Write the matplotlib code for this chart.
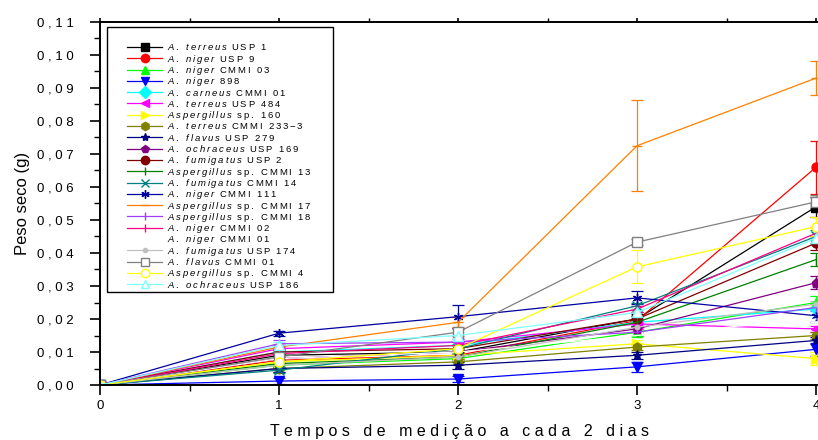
import numpy as np
import matplotlib
matplotlib.use('Agg')
import matplotlib.pyplot as plt
from matplotlib.lines import Line2D
from matplotlib.patches import Rectangle
from matplotlib.ticker import FixedLocator, MultipleLocator

plt.rcParams['font.family'] = ['Liberation Sans', 'DejaVu Sans']
plt.rcParams['mathtext.fontset'] = 'custom'
plt.rcParams['mathtext.rm'] = 'Liberation Sans'
plt.rcParams['mathtext.it'] = 'Liberation Sans:italic'

# measurement times (x) and dry weight per strain
dias = [0, 1, 2, 3, 4]

especies = ['A. terreus', 'A. niger', 'A. niger', 'A. niger', 'A. carneus',
            'A. terreus', 'Aspergillus', 'A. terreus', 'A. flavus', 'A. ochraceus',
            'A. fumigatus', 'Aspergillus', 'A. fumigatus', 'A. niger', 'Aspergillus',
            'Aspergillus', 'A. niger', 'A. niger', 'A. fumigatus', 'A. flavus',
            'Aspergillus', 'A. ochraceus']
cepas = ['USP 1', 'USP 9', 'CMMI 03', '898', 'CMMI 01',
         'USP 484', 'sp. 160', 'CMMI 233-3', 'USP 279', 'USP 169',
         'USP 2', 'sp. CMMI 13', 'CMMI 14', 'CMMI 111', 'sp. CMMI 17',
         'sp. CMMI 18', 'CMMI 02', 'CMMI 01', 'USP 174', 'CMMI 01',
         'sp. CMMI 4', 'USP 186']

peso = [
    [0, 0.0090, 0.0100, 0.0200, 0.0540],
    [0, 0.0075, 0.0090, 0.0195, 0.0660],
    [0, 0.0060, 0.0080, 0.0160, 0.0250],
    [0, 0.0012, 0.0018, 0.0055, 0.0108],
    [0, 0.0100, 0.0120, 0.0190, 0.0230],
    [0, 0.0110, 0.0130, 0.0185, 0.0170],
    [0, 0.0070, 0.0090, 0.0125, 0.0080],
    [0, 0.0050, 0.0070, 0.0115, 0.0150],
    [0, 0.0050, 0.0060, 0.0090, 0.0135],
    [0, 0.0080, 0.0100, 0.0170, 0.0310],
    [0, 0.0100, 0.0110, 0.0200, 0.0430],
    [0, 0.0065, 0.0085, 0.0190, 0.0380],
    [0, 0.0045, 0.0110, 0.0240, 0.0450],
    [0, 0.0157, 0.0207, 0.0264, 0.0210],
    [0, 0.0115, 0.0190, 0.0725, 0.0930],
    [0, 0.0125, 0.0130, 0.0160, 0.0235],
    [0, 0.0095, 0.0120, 0.0230, 0.0460],
    [0, 0.0080, 0.0100, 0.0150, 0.0200],
    [0, 0.0060, 0.0085, 0.0175, 0.0245],
    [0, 0.0085, 0.0160, 0.0433, 0.0555],
    [0, 0.0070, 0.0110, 0.0358, 0.0480],
    [0, 0.0120, 0.0150, 0.0220, 0.0445],
]

erro = [
    [0, 0.001, 0.001, 0.002, 0.003],
    [0, 0.001, 0.001, 0.002, 0.008],
    [0, 0.001, 0.001, 0.001, 0.002],
    [0, 0.0008, 0.001, 0.0015, 0.002],
    [0, 0.001, 0.001, 0.001, 0.002],
    [0, 0.001, 0.001, 0.001, 0.001],
    [0, 0.001, 0.001, 0.001, 0.002],
    [0, 0.001, 0.001, 0.001, 0.001],
    [0, 0.001, 0.001, 0.001, 0.001],
    [0, 0.001, 0.001, 0.001, 0.002],
    [0, 0.001, 0.001, 0.001, 0.002],
    [0, 0.001, 0.001, 0.001, 0.002],
    [0, 0.001, 0.001, 0.001, 0.002],
    [0, 0.0008, 0.0035, 0.002, 0.002],
    [0, 0.001, 0.0015, 0.0138, 0.0052],
    [0, 0.001, 0.001, 0.001, 0.001],
    [0, 0.001, 0.001, 0.001, 0.002],
    [0, 0.001, 0.001, 0.001, 0.001],
    [0, 0.001, 0.001, 0.001, 0.001],
    [0, 0.001, 0.001, 0.0008, 0.002],
    [0, 0.001, 0.001, 0.0050, 0.003],
    [0, 0.001, 0.001, 0.001, 0.002],
]

cores = ['#000000', '#FF0000', '#00FF00', '#0000FF', '#00FFFF',
         '#FF00FF', '#FFFF00', '#808000', '#000080', '#800080',
         '#800000', '#008000', '#008080', '#0000A0', '#FF8000',
         '#A040FF', '#FF0080', '#FFFFFF', '#C0C0C0', '#808080',
         '#FFFF00', '#80FFFF']
marcadores = ['s', 'o', '^', 'v', 'D', '<', '>', 'h', '*', 'p',
              'o', '|', 'x', (6, 2, 0), '_', '|', '|', '', '.', 's',
              'o', '^']
vazios = [False] * 19 + [True, True, True]


def espacado(txt, gap=r'\:'):
    return gap.join(r'\ ' if c == ' ' else c for c in txt)


def rotulo(esp, cepa):
    return (r'$\mathit{' + espacado(esp) + r'}\ \ \mathrm{'
            + espacado(cepa) + '}$')


W, H = 818, 440
fig = plt.figure(figsize=(W / 100, H / 100), dpi=100)
ax = fig.add_axes([100 / W, 55 / H, 718 / W, 363 / H])

for i in range(len(peso)):
    face = 'white' if vazios[i] else cores[i]
    ax.errorbar(dias, peso[i], yerr=erro[i], color=cores[i], lw=0.9,
                marker=marcadores[i], ms=6.5, mfc=face, mec=cores[i],
                elinewidth=0.9, capsize=4, capthick=0.9, clip_on=True)

ax.set_xlim(0, 718 / 179)
ax.set_ylim(0, 0.11)

ax.spines['right'].set_visible(False)
for s in ['left', 'bottom', 'top']:
    ax.spines[s].set_linewidth(1.4)

ax.xaxis.set_major_locator(FixedLocator([0, 1, 2, 3, 4]))
ax.xaxis.set_minor_locator(MultipleLocator(0.5))
ax.yaxis.set_major_locator(MultipleLocator(0.01))
ax.yaxis.set_minor_locator(MultipleLocator(0.005))
ax.set_yticklabels([' '.join(f'{v:.2f}'.replace('.', ','))
                    for v in ax.get_yticks()])
ax.tick_params(which='major', direction='out', length=7, width=1.2,
               labelsize=9.5, top=True)
ax.tick_params(which='minor', direction='out', length=4, width=1.0, top=True)
ax.tick_params(axis='y', which='major', pad=12)
ax.xaxis.set_tick_params(which='both', labeltop=False)
for t in ax.xaxis.get_ticklines(minor=False)[1::2] + ax.xaxis.get_ticklines(minor=True)[1::2]:
    t.set_markersize(3)

ax.set_ylabel('Peso seco (g)', fontsize=12, labelpad=5)
ax.set_xlabel(' '.join('Tempos de medição a cada 2 dias'), fontsize=11.5,
              labelpad=9)

# legend box built row by row so every entry sits on the same baseline grid
fx = lambda px: px / W
fy = lambda py: 1 - py / H
fig.add_artist(Rectangle((fx(107), fy(292)), fx(333) - fx(107), fy(27) - fy(292),
                         transform=fig.transFigure, facecolor='white',
                         edgecolor='black', lw=1.0, zorder=5))
for i, (esp, cepa) in enumerate(zip(especies, cepas)):
    yrow = 47 + i * 11.3
    face = 'white' if vazios[i] else cores[i]
    fig.add_artist(Line2D([fx(127), fx(144.5), fx(162)], [fy(yrow)] * 3,
                          transform=fig.transFigure, color=cores[i], lw=0.9,
                          marker=marcadores[i], markevery=[1], ms=6,
                          mfc=face, mec=cores[i], zorder=6))
    fig.text(fx(167), fy(yrow + 3.3), rotulo(esp, cepa), fontsize=6.8,
             va='baseline', ha='left', zorder=6)

fig.savefig('out.png', dpi=100)
